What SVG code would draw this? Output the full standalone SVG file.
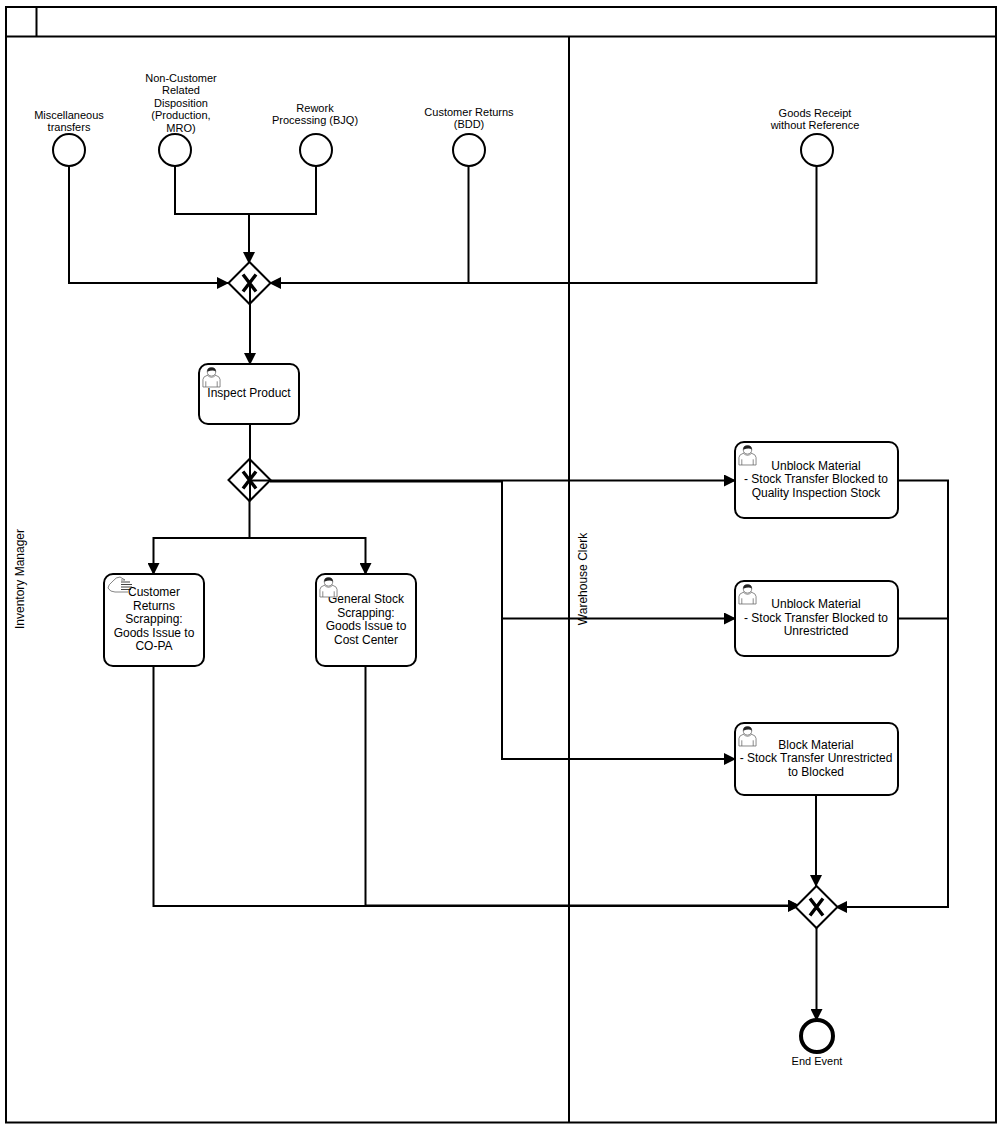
<svg xmlns="http://www.w3.org/2000/svg" width="1002" height="1129" viewBox="0 0 1002 1129">
<defs>
<style>
text{font-family:"Liberation Sans",Arial,sans-serif;font-size:12px;fill:#000;text-anchor:middle}
.lbl{font-size:11px}
.pool{fill:none;stroke:#000;stroke-width:2}
.task{fill:#fff;stroke:#000;stroke-width:2}
.ev{fill:#fff;stroke:#000;stroke-width:2}
.gw{fill:#fff;stroke:#000;stroke-width:2}
.x{fill:none;stroke:#000;stroke-width:3.4}
.c{fill:none;stroke:#000;stroke-width:2}
.ico{fill:#fff;stroke:#666;stroke-width:.8}
.hd{fill:#222;stroke:none}
</style>
<marker id="a" viewBox="0 0 12 12" refX="11" refY="6" markerWidth="12" markerHeight="12" markerUnits="userSpaceOnUse" orient="auto"><path d="M0 0L12 6L0 12Z" fill="#000"/></marker>
<symbol id="user" viewBox="0 0 20 22" overflow="visible">
<path class="ico" d="M1 21V13Q1 10 6 8.500L14 8.500Q19 10 19 13V21Z"/>
<path class="ico" d="M4 21V15M16 21V15M5.500 8.500Q10 13 14.500 8.500"/>
<circle class="ico" cx="10" cy="5" r="4.500"/>
<path class="hd" d="M5.500 5Q5 .5 10 .5Q15 .5 14.500 5Q12 2.500 5.500 5Z"/>
</symbol>
</defs>
<g id="pool">
<rect class="pool" x="6" y="7" width="990" height="1115.500"/>
<path class="pool" d="M6 36.500H996M36.500 7V36M569 36.500V1122"/>
<text transform="translate(24 579) rotate(-90)">Inventory Manager</text>
<text transform="translate(587 579) rotate(-90)">Warehouse Clerk</text>
</g>
<g id="connectors">
<path class="c" marker-end="url(#a)" d="M69 166V283H228"/>
<path class="c" d="M175 166V214H316V166"/>
<path class="c" marker-end="url(#a)" d="M249 214V263"/>
<path class="c" marker-end="url(#a)" d="M816.500 166V283H270"/>
<path class="c" d="M468.500 166V283"/>
<path class="c" marker-end="url(#a)" d="M250 283V364"/>
<path class="c" d="M250 424V481"/>
<path class="c" marker-end="url(#a)" d="M249.500 501V538H153.500V574"/>
<path class="c" marker-end="url(#a)" d="M249.500 538H365.500V574"/>
<path class="c" marker-end="url(#a)" d="M250 480.500H735"/>
<path class="c" marker-end="url(#a)" d="M270 481.500H502V618.500H735"/>
<path class="c" marker-end="url(#a)" d="M502 618V759H735"/>
<path class="c" marker-end="url(#a)" d="M153.500 666V906H799"/>
<path class="c" marker-end="url(#a)" d="M365.500 666V905.500H799"/>
<path class="c" marker-end="url(#a)" d="M816 795V886"/>
<path class="c" marker-end="url(#a)" d="M898 480.500H948V907H836"/>
<path class="c" d="M898 618.500H948"/>
<path class="c" marker-end="url(#a)" d="M816.500 928V1020"/>
</g>
<g id="start-misc"><circle class="ev" cx="69" cy="150" r="16"/><text class="lbl" x="69" y="119">Miscellaneous</text><text class="lbl" x="69" y="131">transfers</text></g>
<g id="start-noncust"><circle class="ev" cx="175" cy="150" r="16"/><text class="lbl" x="181" y="82">Non-Customer</text><text class="lbl" x="181" y="94">Related</text><text class="lbl" x="181" y="107">Disposition</text><text class="lbl" x="181" y="119">(Production,</text><text class="lbl" x="181" y="132">MRO)</text></g>
<g id="start-rework"><circle class="ev" cx="316" cy="150" r="16"/><text class="lbl" x="315" y="112">Rework</text><text class="lbl" x="315" y="124">Processing (BJQ)</text></g>
<g id="start-returns"><circle class="ev" cx="469" cy="150" r="16"/><text class="lbl" x="469" y="116">Customer Returns</text><text class="lbl" x="469" y="128">(BDD)</text></g>
<g id="start-gr"><circle class="ev" cx="817" cy="150" r="16"/><text class="lbl" x="815" y="117">Goods Receipt</text><text class="lbl" x="815" y="129">without Reference</text></g>
<g id="gw1"><path class="gw" d="M249.500 262L270.500 283L249.500 304L228.500 283Z"/><path class="x" d="M243 274.500L256 291.500M256 274.500L243 291.500"/><path class="c" d="M250 283V304"/></g>
<g id="task-inspect"><rect class="task" x="199" y="364" width="100" height="60" rx="9"/><use href="#user" x="202" y="367" width="19" height="21"/><text x="249" y="397">Inspect Product</text></g>
<g id="gw2"><path class="gw" d="M249.500 459L270.500 480L249.500 501L228.500 480Z"/><path class="x" d="M243 471.500L256 488.500M256 471.500L243 488.500"/><path class="c" d="M250 459V501"/><path class="c" d="M250 480.500H270"/></g>
<g id="task-cust"><rect class="task" x="104" y="574" width="100" height="92" rx="9"/>
<path class="ico" d="M121 580H125L120 577Q116 577 113 581Q108 585 108 588Q110 592 115 592H128"/><path d="M121 582H130M121 584.500H132M121 587H132M121 589.500H131" fill="none" stroke="#444" stroke-width="1"/>
<text x="154" y="596">Customer</text><text x="154" y="610">Returns</text><text x="154" y="623">Scrapping:</text><text x="154" y="637">Goods Issue to</text><text x="154" y="650">CO-PA</text></g>
<g id="task-general"><rect class="task" x="316" y="574" width="100" height="92" rx="9"/><text x="366" y="603">General Stock</text><text x="366" y="617">Scrapping:</text><text x="366" y="630">Goods Issue to</text><text x="366" y="644">Cost Center</text><use href="#user" x="319" y="577" width="19" height="21"/></g>
<g id="task-unblock-qi"><rect class="task" x="735" y="442" width="163" height="76" rx="9"/><use href="#user" x="738" y="445" width="19" height="21"/><text x="816" y="470">Unblock Material</text><text x="816" y="483">- Stock Transfer Blocked to</text><text x="816" y="497">Quality Inspection Stock</text></g>
<g id="task-unblock-un"><rect class="task" x="735" y="581" width="163" height="75" rx="9"/><use href="#user" x="738" y="584" width="19" height="21"/><text x="816" y="608">Unblock Material</text><text x="816" y="622">- Stock Transfer Blocked to</text><text x="816" y="635">Unrestricted</text></g>
<g id="task-block"><rect class="task" x="735" y="723" width="163" height="72" rx="9"/><use href="#user" x="738" y="726" width="19" height="21"/><text x="816" y="749">Block Material</text><text x="816" y="762">- Stock Transfer Unrestricted</text><text x="816" y="776">to Blocked</text></g>
<g id="gw3"><path class="gw" d="M816.500 886L837.500 907L816.500 928L795.500 907Z"/><path class="x" d="M810 898.500L823 915.500M823 898.500L810 915.500"/></g>
<g id="end"><circle class="ev" style="stroke-width:4" cx="817" cy="1036" r="16"/><text class="lbl" x="817" y="1065">End Event</text></g>
</svg>
